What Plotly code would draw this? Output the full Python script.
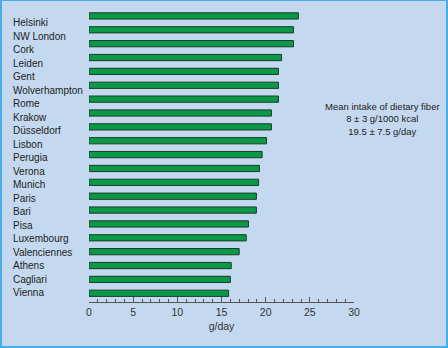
import plotly.graph_objects as go

cities = ["Helsinki", "NW London", "Cork", "Leiden", "Gent", "Wolverhampton", "Rome",
          "Krakow", "Düsseldorf", "Lisbon", "Perugia", "Verona", "Munich", "Paris", "Bari",
          "Pisa", "Luxembourg", "Valenciennes", "Athens", "Cagliari", "Vienna"]
fiber = [23.7, 23.15, 23.15, 21.8, 21.45, 21.45, 21.45, 20.65, 20.65, 20.1, 19.6, 19.3,
         19.2, 18.95, 18.95, 18.05, 17.8, 17.0, 16.1, 16.0, 15.8]
x_ticks = [0, 5, 10, 15, 20, 25, 30]
note_lines = ["Mean intake of dietary fiber", "8 ± 3 g/1000 kcal", "19.5 ± 7.5 g/day"]

W, H = 448, 348
ML, MR, MT, MB = 89, 94, 9, 46
PW, PH = W - ML - MR, H - MT - MB

FONT = "Liberation Sans, Arial, sans-serif"
BG = "#c4d9ef"
BORDER = "#45aee6"

n = len(cities)
pos = [n - 1 - i for i in range(n)]  # Helsinki at top

fig = go.Figure()
fig.add_trace(go.Bar(
    x=fiber, y=pos, orientation="h", width=0.45,
    marker=dict(color="#0a9a47", line=dict(color="#1b3a2c", width=1)),
    hoverinfo="x+text", text=cities, textposition="none",
))
# invisible trace to activate yaxis2 for labels
fig.add_trace(go.Scatter(x=[None], y=[None], yaxis="y2", showlegend=False))

def px_x(px):
    return (px - ML) / PW

def px_y(py):
    return (H - MB - py) / PH

annotations = []
for c, p in zip(cities, pos):
    annotations.append(dict(
        x=px_x(11), xref="paper", y=p, yref="y2", text=c, showarrow=False,
        xanchor="left", yanchor="middle",
        font=dict(family=FONT, size=10, color="#222222"),
    ))
annotations.append(dict(
    x=px_x(382), xref="paper", y=px_y(118.5), yref="paper",
    text="<br>".join(note_lines), showarrow=False, xanchor="center", yanchor="middle",
    align="center", font=dict(family=FONT, size=9.5, color="#222222"),
))

fig.update_layout(
    width=W, height=H,
    margin=dict(l=ML, r=MR, t=MT, b=MB, pad=0),
    paper_bgcolor=BORDER, plot_bgcolor="rgba(0,0,0,0)",
    showlegend=False,
    font=dict(family=FONT, size=10, color="#333333"),
    xaxis=dict(
        range=[0, 30], tickvals=x_ticks, ticks="inside", ticklen=5, tickwidth=1,
        tickcolor="#555555", showline=True, linecolor="#555555", linewidth=1,
        showgrid=False, zeroline=False,
        minor=dict(dtick=1, ticks="inside", ticklen=3, tickcolor="#555555", showgrid=False),
        tickfont=dict(family=FONT, size=10.5, color="#333333"),
        title=dict(text="g/day", font=dict(family=FONT, size=10.5, color="#333333"), standoff=6),
    ),
    yaxis=dict(range=[-0.63, n - 0.5], showticklabels=False, showgrid=False,
               zeroline=False, showline=False, fixedrange=True),
    yaxis2=dict(range=[-0.697, n + 0.009], overlaying="y", visible=False,
                showgrid=False, zeroline=False),
    annotations=annotations,
    shapes=[dict(type="rect", xref="paper", yref="paper",
                 x0=px_x(2), x1=px_x(W - 2), y0=px_y(H - 2), y1=px_y(1),
                 fillcolor=BG, line=dict(width=0), layer="below")],
)

fig.write_html("out.html")
